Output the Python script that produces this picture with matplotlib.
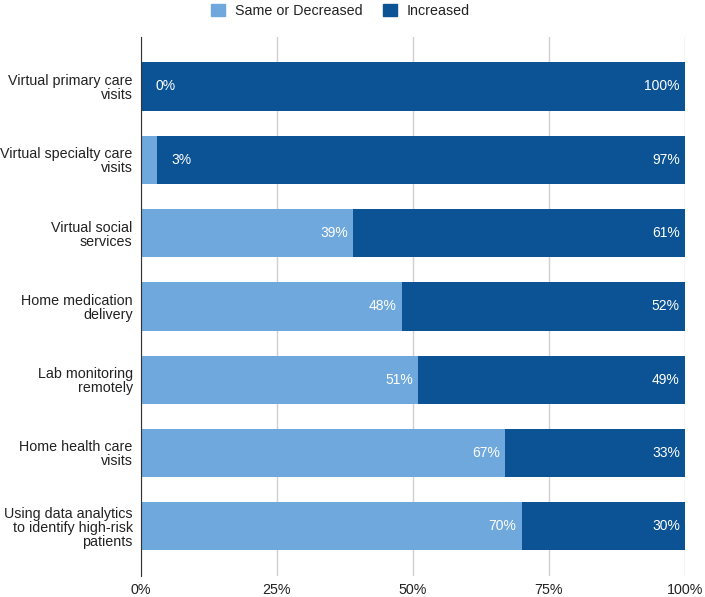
import matplotlib.pyplot as plt
from matplotlib.patches import Patch

plt.rcParams['font.family'] = ['Liberation Sans', 'DejaVu Sans']

categories = ['Virtual primary care\nvisits',
              'Virtual specialty care\nvisits',
              'Virtual social\nservices',
              'Home medication\ndelivery',
              'Lab monitoring\nremotely',
              'Home health care\nvisits',
              'Using data analytics\nto identify high-risk\npatients']
same_or_decreased = [0, 3, 39, 48, 51, 67, 70]
increased = [100, 97, 61, 52, 49, 33, 30]
xticks = [0, 25, 50, 75, 100]

light = '#6fa8dc'
dark = '#0b5394'

fig = plt.figure(figsize=(7.05, 5.97), dpi=100)
ax = fig.add_axes([0.2, 0.0352, 0.7716, 0.9023])

y = list(range(len(categories)))
ax.barh(y, same_or_decreased, height=0.66, color=light, zorder=2)
ax.barh(y, increased, left=same_or_decreased, height=0.66, color=dark, zorder=2)

for i in y:
    s = same_or_decreased[i]
    inc = increased[i]
    if s >= 10:
        ax.text(s - 0.95, i, f'{s}%', color='white', fontsize=10,
                ha='right', va='center', zorder=3)
    else:
        ax.text(s + 2.6, i, f'{s}%', color='white', fontsize=10,
                ha='left', va='center', zorder=3)
    ax.text(100 - 0.95, i, f'{inc}%', color='white', fontsize=10,
            ha='right', va='center', zorder=3)

ax.set_xlim(0, 100)
ax.set_ylim(6.678, -0.671)
ax.set_xticks(xticks)
ax.set_xticklabels([f'{t}%' for t in xticks], fontsize=10.3, color='#222222')
ax.set_yticks(y)
ax.set_yticklabels(categories, fontsize=10.3, color='#222222', linespacing=1.0)
ax.tick_params(length=0, pad=6)
ax.tick_params(axis='x', pad=5)
ax.xaxis.grid(True, color='#d0d0d0', linewidth=1, zorder=0)
for sp in ['top', 'right', 'bottom']:
    ax.spines[sp].set_visible(False)
ax.spines['left'].set_color('#333333')
ax.spines['left'].set_zorder(4)

handles = [Patch(color=light, label='Same or Decreased'),
           Patch(color=dark, label='Increased')]
fig.legend(handles=handles, loc='center', bbox_to_anchor=(0.483, 0.982),
           ncol=2, frameon=False, fontsize=10.3, handlelength=1.0,
           handleheight=1.0, handletextpad=0.7, columnspacing=1.4,
           labelcolor='#222222')

fig.savefig('out.png', dpi=100)
